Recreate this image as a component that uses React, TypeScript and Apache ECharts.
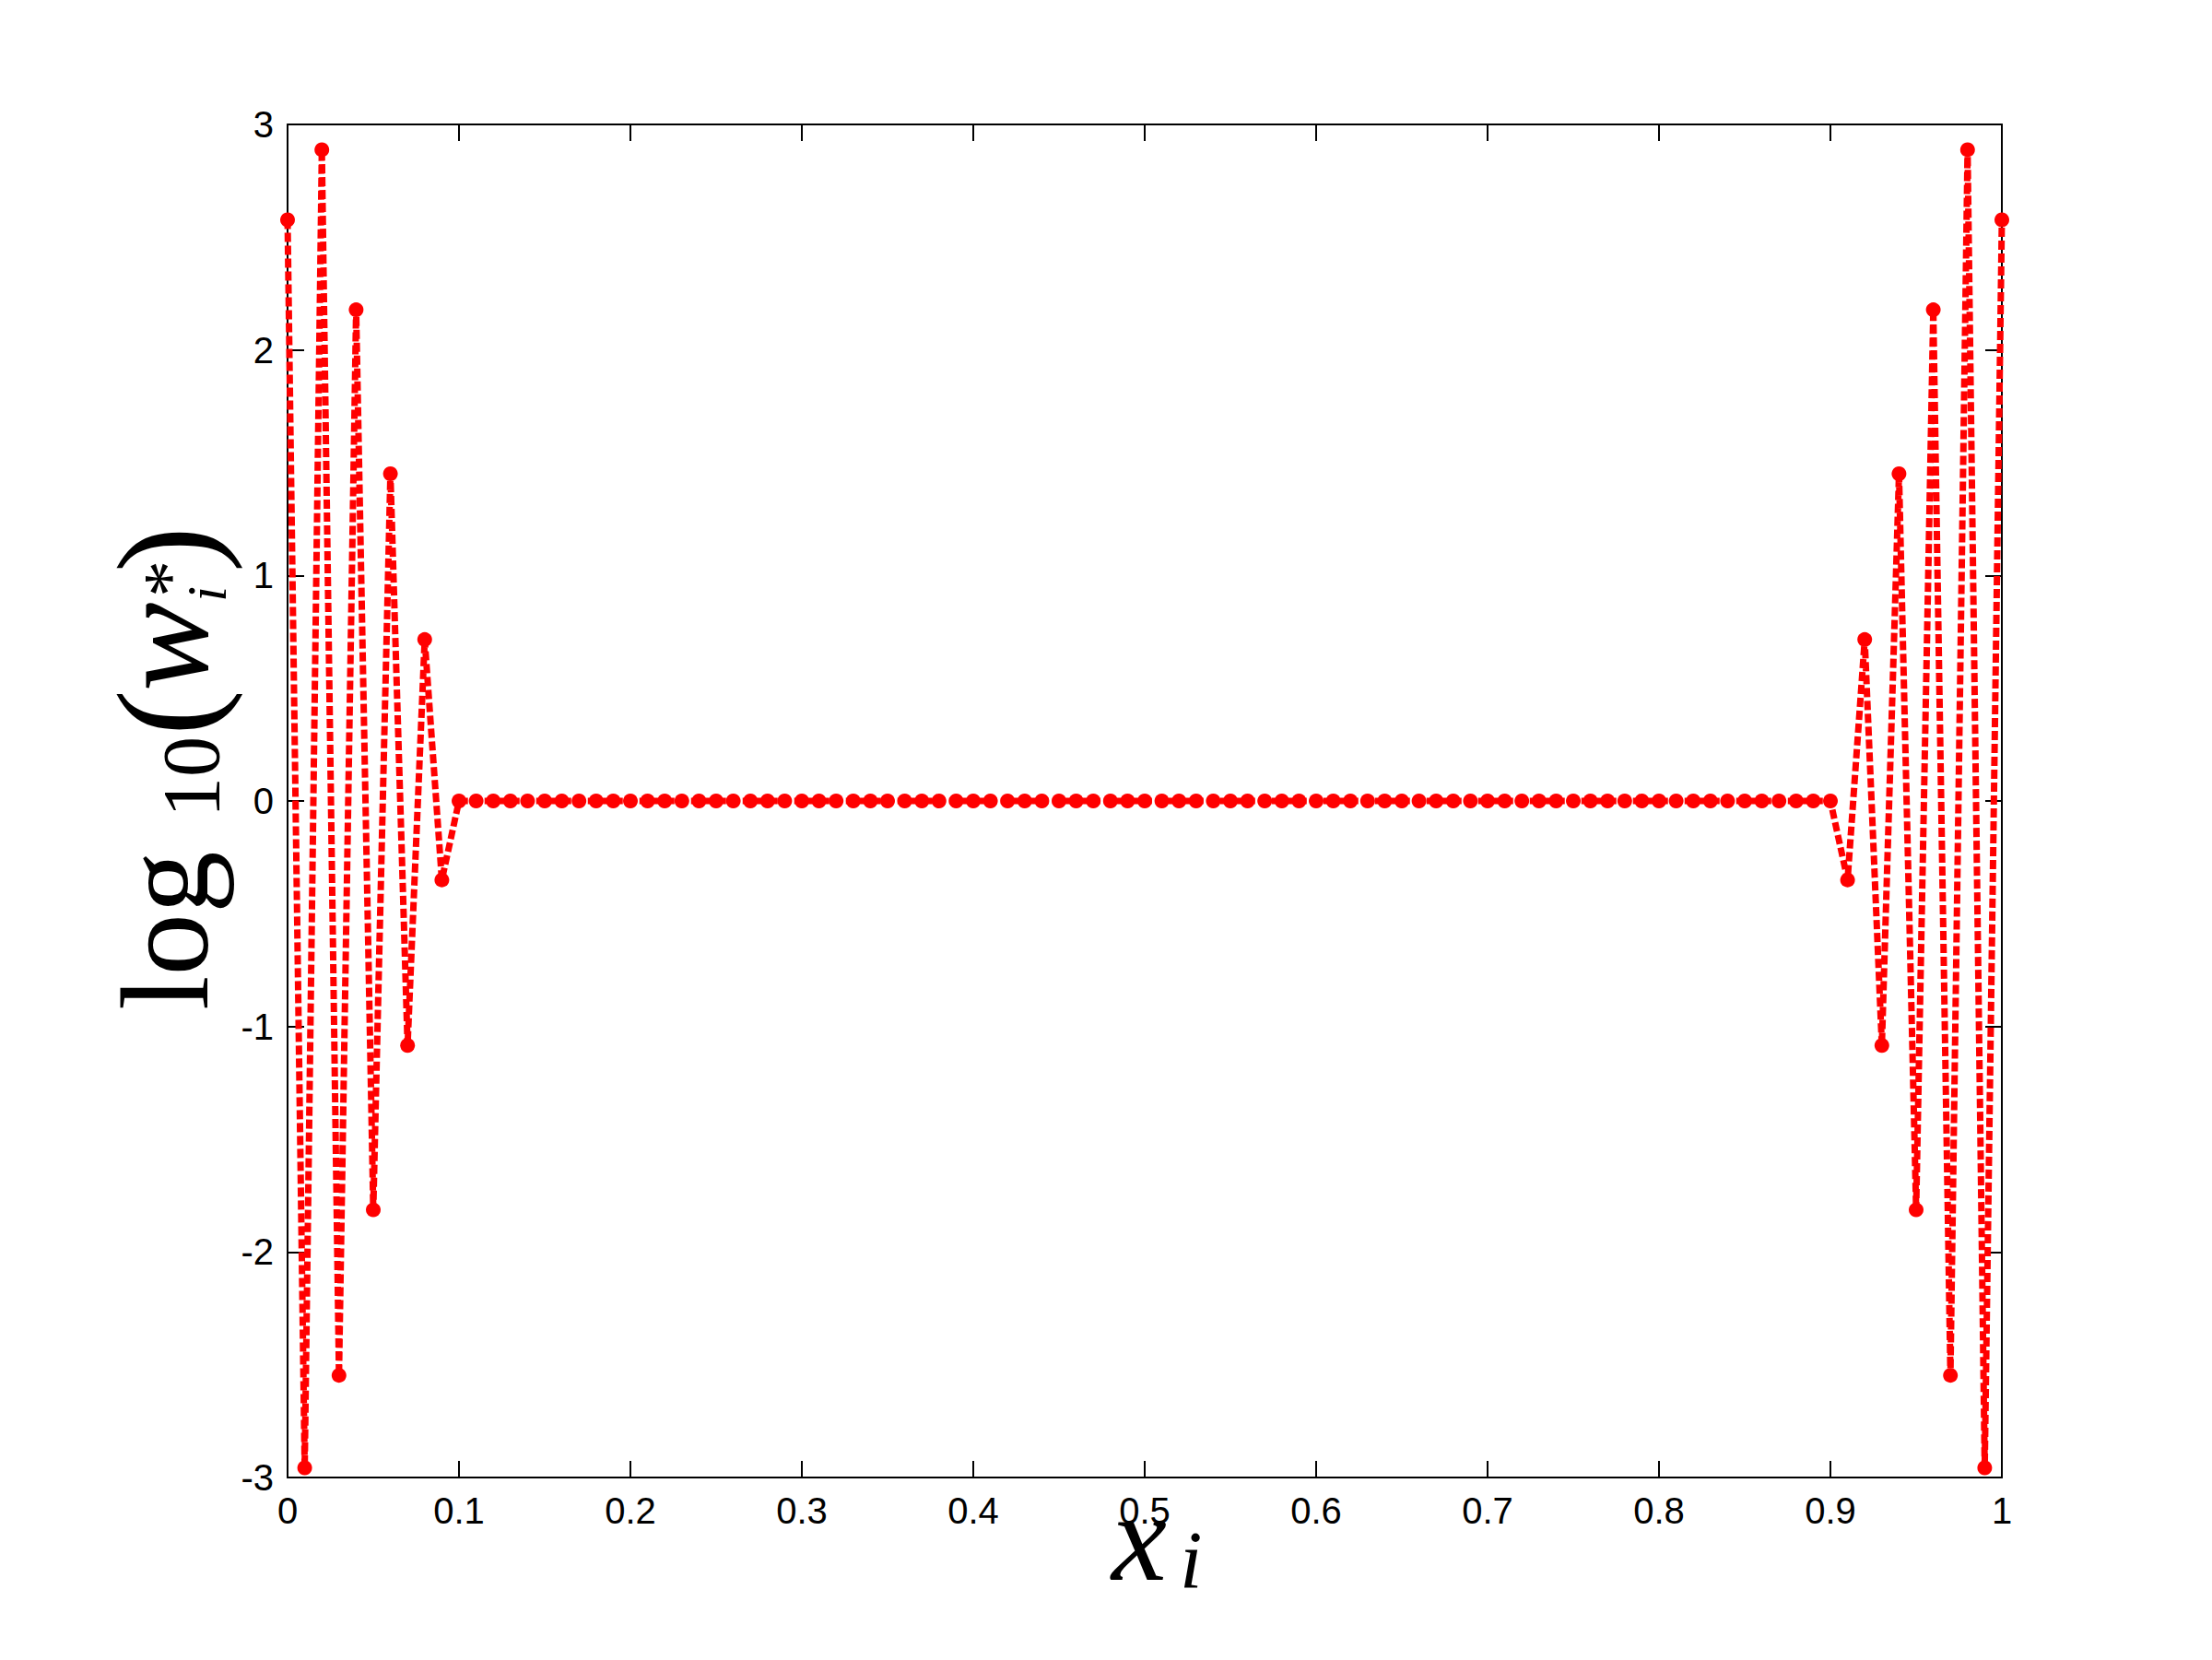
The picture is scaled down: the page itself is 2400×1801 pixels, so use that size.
import React, { useEffect, useRef } from "react";
import * as echarts from "echarts";

const xValues = [
  0, 0.01, 0.02, 0.03, 0.04, 0.05, 0.06, 0.07, 0.08, 0.09,
  0.1, 0.11, 0.12, 0.13, 0.14, 0.15, 0.16, 0.17, 0.18, 0.19,
  0.2, 0.21, 0.22, 0.23, 0.24, 0.25, 0.26, 0.27, 0.28, 0.29,
  0.3, 0.31, 0.32, 0.33, 0.34, 0.35, 0.36, 0.37, 0.38, 0.39,
  0.4, 0.41, 0.42, 0.43, 0.44, 0.45, 0.46, 0.47, 0.48, 0.49,
  0.5, 0.51, 0.52, 0.53, 0.54, 0.55, 0.56, 0.57, 0.58, 0.59,
  0.6, 0.61, 0.62, 0.63, 0.64, 0.65, 0.66, 0.67, 0.68, 0.69,
  0.7, 0.71, 0.72, 0.73, 0.74, 0.75, 0.76, 0.77, 0.78, 0.79,
  0.8, 0.81, 0.82, 0.83, 0.84, 0.85, 0.86, 0.87, 0.88, 0.89,
  0.9, 0.91, 0.92, 0.93, 0.94, 0.95, 0.96, 0.97, 0.98, 0.99,
  1,
];

const logWeights = [
  2.577, -2.957, 2.888, -2.547, 2.178, -1.813, 1.451, -1.084, 0.716, -0.35,
  0, 0, 0, 0, 0, 0, 0, 0, 0, 0,
  0, 0, 0, 0, 0, 0, 0, 0, 0, 0,
  0, 0, 0, 0, 0, 0, 0, 0, 0, 0,
  0, 0, 0, 0, 0, 0, 0, 0, 0, 0,
  0, 0, 0, 0, 0, 0, 0, 0, 0, 0,
  0, 0, 0, 0, 0, 0, 0, 0, 0, 0,
  0, 0, 0, 0, 0, 0, 0, 0, 0, 0,
  0, 0, 0, 0, 0, 0, 0, 0, 0, 0,
  0, -0.35, 0.716, -1.084, 1.451, -1.813, 2.178, -2.547, 2.888, -2.957,
  2.577,
];

const W = 2400;
const H = 1801;

export default function App() {
  const ref = useRef<HTMLDivElement>(null);

  useEffect(() => {
    document.body.style.margin = "0";
    if (!ref.current) return;
    const chart = echarts.init(ref.current, undefined, { renderer: "svg" });

    const tickFont = {
      fontFamily: "Liberation Sans, Arial, sans-serif",
      fontSize: 40,
      color: "#000",
    };
    const axisCommon = {
      axisLine: { show: true, onZero: false, lineStyle: { color: "#000", width: 2 } },
      axisTick: { show: true, inside: true, length: 18, lineStyle: { color: "#000", width: 2 } },
      splitLine: { show: false },
    };

    const serif = "Liberation Serif, Times New Roman, serif";
    const rot = Math.PI / 2;

    const option = {
      animation: false,
      backgroundColor: "#fff",
      grid: { left: 312, right: 228, top: 135, bottom: 198, containLabel: false },
      xAxis: [
        {
          type: "value",
          position: "bottom",
          min: 0,
          max: 1,
          interval: 0.1,
          ...axisCommon,
          axisLabel: { ...tickFont, margin: 16 },
        },
        {
          type: "value",
          position: "top",
          min: 0,
          max: 1,
          interval: 0.1,
          ...axisCommon,
          axisLabel: { show: false },
        },
      ],
      yAxis: [
        {
          type: "value",
          position: "left",
          min: -3,
          max: 3,
          interval: 1,
          ...axisCommon,
          axisLabel: { ...tickFont, margin: 15 },
        },
        {
          type: "value",
          position: "right",
          min: -3,
          max: 3,
          interval: 1,
          ...axisCommon,
          axisLabel: { show: false },
        },
      ],
      series: [
        {
          type: "line",
          xAxisIndex: 0,
          yAxisIndex: 0,
          data: xValues.map((x, i) => [x, logWeights[i]]),
          symbol: "circle",
          symbolSize: 16,
          showSymbol: true,
          clip: false,
          itemStyle: { color: "#ff0000" },
          lineStyle: { color: "#ff0000", width: 7, type: [10, 4] },
        },
      ],
      graphic: [
        // x label: x_i
        {
          type: "text",
          x: 1206,
          y: 1668,
          style: {
            text: "x",
            font: `italic 135px ${serif}`,
            fill: "#000",
            align: "left",
            verticalAlign: "middle",
          },
        },
        {
          type: "text",
          x: 1280,
          y: 1692,
          style: {
            text: "i",
            font: `italic 88px ${serif}`,
            fill: "#000",
            align: "left",
            verticalAlign: "middle",
          },
        },
        // y label: log 10(w_i^*)
        {
          type: "text",
          x: 179,
          y: 1096,
          rotation: rot,
          style: { text: "log", font: `135px ${serif}`, fill: "#000", align: "left", verticalAlign: "middle" },
        },
        {
          type: "text",
          x: 207,
          y: 887,
          rotation: rot,
          style: { text: "10", font: `88px ${serif}`, fill: "#000", align: "left", verticalAlign: "middle" },
        },
        {
          type: "text",
          x: 180,
          y: 798,
          rotation: rot,
          style: { text: "(", font: `150px ${serif}`, fill: "#000", align: "left", verticalAlign: "middle" },
        },
        {
          type: "text",
          x: 176,
          y: 750,
          rotation: rot,
          style: { text: "w", font: `italic 145px ${serif}`, fill: "#000", align: "left", verticalAlign: "middle" },
        },
        {
          type: "text",
          x: 224,
          y: 653,
          rotation: rot,
          style: { text: "i", font: `italic 62px ${serif}`, fill: "#000", align: "left", verticalAlign: "middle" },
        },
        {
          type: "text",
          x: 184,
          y: 628,
          rotation: rot,
          style: { text: "*", font: `80px ${serif}`, fill: "#000", align: "center", verticalAlign: "middle" },
        },
        {
          type: "text",
          x: 180,
          y: 621,
          rotation: rot,
          style: { text: ")", font: `150px ${serif}`, fill: "#000", align: "left", verticalAlign: "middle" },
        },
      ],
    };

    chart.setOption(option as any);
    return () => chart.dispose();
  }, []);

  return <div ref={ref} style={{ width: W, height: H }} />;
}
